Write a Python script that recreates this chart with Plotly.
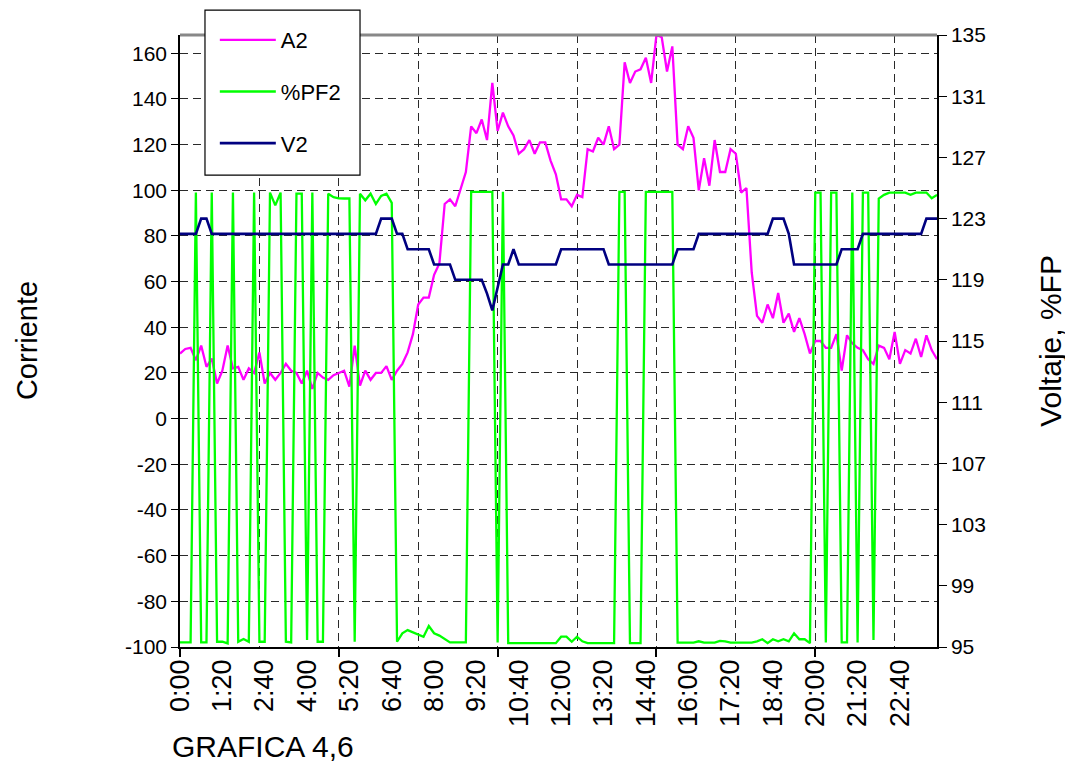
import plotly.graph_objects as go

# 10-minute categories for the day
times = [f"{h}:{m:02d}" for h in range(24) for m in range(0, 60, 10)]

a2 = [28.5, 30.5, 31, 25.6, 32, 22.7, 26.3, 15.4, 21, 32,
      22, 22.7, 17, 22, 20, 29, 15.4, 20, 17, 20,
      24, 21, 20, 15.4, 21, 13, 20, 18, 17, 19,
      20, 21, 14, 32, 14.5, 21, 17, 20, 20, 23,
      17, 21, 24, 29, 37, 50, 53, 53, 63, 68,
      94, 96, 93, 100, 108, 128, 125, 131, 122, 147,
      126, 134, 128, 124, 116, 118, 122, 116, 121, 121,
      113, 107, 96, 96, 93, 98, 97, 118, 117, 123,
      120, 128, 118, 120, 156, 147, 152, 153, 158, 147,
      168, 167, 152, 163, 120, 118, 128, 123, 100, 114,
      102, 122, 108, 108, 118, 116, 99, 101, 64, 45,
      42, 50, 44, 55, 42, 46, 38, 44, 37, 28.5,
      34, 34, 31, 31, 37, 21, 36.5, 33, 31, 30,
      26, 24, 32, 31, 26, 38, 24, 30, 28.5, 35,
      27, 36.5, 30, 26]

pf2 = [-98, -98, -98, 99, -98, -98, 99, -97.7, -97.7, -98.4,
       99, -97.7, -96.5, -97.7, 99, -97.7, -97.7, 99, 93.4, 99,
       -97.7, -98, 98.5, 98.5, -96.9, 99, -97.7, -97.7, 98.5, 97,
       96.5, 96.4, 96.4, -97.7, 98.5, 95.6, 98.5, 94, 97.5, 98.5,
       94.5, -97.7, -94, -92.6, -93.5, -94.5, -95.5, -90.8, -94, -95,
       -96.5, -98, -98, -98, -98, 99.3, 99.3, 99.3, 99.3, 99.3,
       -98, 99.3, -98.3, -98.3, -98.3, -98.3, -98.3, -98.3, -98.3, -98.3,
       -98.3, -98.3, -95.5, -95.5, -97.7, -95.5, -97.5, -98.3, -98.3, -98.3,
       -98.3, -98.3, -98.3, 99.3, 99.3, -98.3, -98.3, -98.3, 99.3, 99.3,
       99.3, 99.3, 99.3, 99.3, -98.1, -98.1, -98.1, -98.1, -97.5, -98.1,
       -98.1, -98.1, -97.3, -97.5, -98.1, -98.1, -98.1, -98.1, -98.1, -97.5,
       -96.6, -98.3, -96.6, -97.5, -96.6, -97.5, -94, -96.6, -96.6, -98.3,
       99, 99, -98, 99, 99, -98, -98, 99, -98, 99,
       99, -96.9, 96.4, 98, 99, 99, 99, 99, 98, 99,
       99, 99, 96.5, 98]

v2 = [122, 122, 122, 122, 123, 123, 122, 122, 122, 122,
      122, 122, 122, 122, 122, 122, 122, 122, 122, 122,
      122, 122, 122, 122, 122, 122, 122, 122, 122, 122,
      122, 122, 122, 122, 122, 122, 122, 122, 123, 123,
      123, 122, 122, 121, 121, 121, 121, 121, 120, 120,
      120, 120, 119, 119, 119, 119, 119, 119, 118.1, 117,
      118.5, 120, 120, 121, 120, 120, 120, 120, 120, 120,
      120, 120, 121, 121, 121, 121, 121, 121, 121, 121,
      121, 120, 120, 120, 120, 120, 120, 120, 120, 120,
      120, 120, 120, 120, 121, 121, 121, 121, 122, 122,
      122, 122, 122, 122, 122, 122, 122, 122, 122, 122,
      122, 122, 123, 123, 123, 122, 120, 120, 120, 120,
      120, 120, 120, 120, 120, 121, 121, 121, 121, 122,
      122, 122, 122, 122, 122, 122, 122, 122, 122, 122,
      122, 123, 123, 123]

tick_labels = ["0:00", "1:20", "2:40", "4:00", "5:20", "6:40", "8:00", "9:20",
               "10:40", "12:00", "13:20", "14:40", "16:00", "17:20", "18:40",
               "20:00", "21:20", "22:40"]
left_ticks = [-100, -80, -60, -40, -20, 0, 20, 40, 60, 80, 100, 120, 140, 160]
right_ticks = [95, 99, 103, 107, 111, 115, 119, 123, 127, 131, 135]

FONT = "Liberation Sans, Arial, sans-serif"
GRID = "#2a2a2a"
DASH = "8px,5px"
XR = [0, len(times) - 1]

fig = go.Figure()
# helper trace (fully transparent) so the tick-mark axis x3 gets drawn
fig.add_trace(go.Scatter(x=times, y=a2, xaxis="x3", yaxis="y", mode="lines",
                         line=dict(width=0, color="rgba(0,0,0,0)"),
                         showlegend=False, hoverinfo="skip"))
fig.add_trace(go.Scatter(x=times, y=a2, name="A2", mode="lines",
                         line=dict(color="#FF00FF", width=2.3), legendgroup="g1"))
fig.add_trace(go.Scatter(x=times, y=pf2, name="%PF2", mode="lines",
                         line=dict(color="#00FF00", width=2.3), legendgroup="g2"))
fig.add_trace(go.Scatter(x=times, y=v2, name="V2", mode="lines",
                         xaxis="x2", yaxis="y2",
                         line=dict(color="#000080", width=2.6), legendgroup="g3"))

fig.update_layout(
    width=1073, height=769,
    margin=dict(l=172, r=144, t=27, b=130, autoexpand=False),
    paper_bgcolor="white", plot_bgcolor="white",
    font=dict(family=FONT, size=21, color="black"),
    showlegend=True,
    legend=dict(x=0.046, y=1.026, xanchor="left", yanchor="top",
                bgcolor="rgba(0,0,0,0)", borderwidth=0,
                font=dict(size=22), tracegroupgap=20, traceorder="grouped",
                itemwidth=56),
    xaxis=dict(type="category", range=XR,
               tickmode="array", tickvals=tick_labels, ticktext=tick_labels,
               tickangle=-90, ticks="", showgrid=False, zeroline=False,
               showline=True, linecolor="black", linewidth=1.5,
               tickfont=dict(size=27)),
    xaxis2=dict(type="category", overlaying="x", anchor="y", side="bottom",
                range=XR, tickmode="linear", tick0=0, dtick=15,
                ticks="", showticklabels=False, showgrid=True, gridcolor=GRID,
                gridwidth=1, griddash=DASH, zeroline=False, showline=False),
    xaxis3=dict(type="category", overlaying="x", anchor="y", side="bottom",
                range=XR, tickmode="linear", tick0=0, dtick=30,
                ticks="outside", ticklen=9, tickcolor="black", tickwidth=1.5,
                showticklabels=False, showgrid=False, zeroline=False,
                showline=False),
    yaxis=dict(range=[-100, 168], tickmode="array", tickvals=left_ticks,
               ticktext=[str(v) for v in left_ticks],
               ticks="outside", ticklen=7, tickcolor="black",
               showgrid=True, gridcolor=GRID, griddash=DASH, gridwidth=1,
               zeroline=False, showline=True, linecolor="black", linewidth=1.5,
               tickfont=dict(size=21)),
    yaxis2=dict(overlaying="y", side="right", range=[95, 135],
                tickmode="array", tickvals=right_ticks,
                ticktext=[str(v) for v in right_ticks],
                ticks="outside", ticklen=8, tickcolor="black",
                showgrid=False, zeroline=False, showline=True,
                linecolor="black", linewidth=1.5, tickfont=dict(size=21)),
    shapes=[
        dict(type="line", xref="paper", yref="paper", x0=0, x1=1, y0=1, y1=1,
             line=dict(color="#888888", width=3)),
        dict(type="rect", xref="paper", yref="paper", layer="above",
             x0=0.033, x1=0.2378, y0=0.7712, y1=1.0408,
             fillcolor="white", line=dict(color="black", width=1.2)),
    ],
    annotations=[
        dict(text="Corriente", xref="paper", yref="paper", x=-0.202, y=0.5,
             xanchor="center", yanchor="middle",
             textangle=-90, showarrow=False, font=dict(size=29)),
        dict(text="Voltaje, %FP", xref="paper", yref="paper", x=1.149, y=0.5,
             xanchor="center", yanchor="middle",
             textangle=-90, showarrow=False, font=dict(size=30)),
        dict(text="GRAFICA 4,6", xref="paper", yref="paper", x=-0.013, y=-0.162,
             xanchor="left", yanchor="middle", showarrow=False,
             font=dict(size=30)),
    ],
)

fig.write_html("out.html")
